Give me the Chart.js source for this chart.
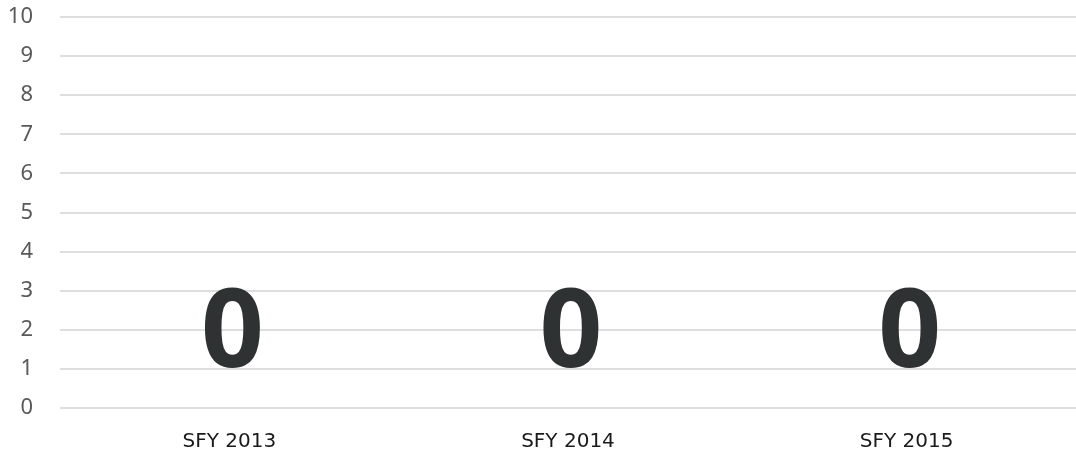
<!DOCTYPE html>
<html>
<head>
<meta charset="utf-8">
<script src="https://cdn.jsdelivr.net/npm/chart.js@4/dist/chart.umd.min.js"></script>
<style>
  html, body { margin: 0; padding: 0; background: #fff; overflow: hidden; }
  canvas { display: block; }
</style>
</head>
<body>
<canvas id="chart" width="1076" height="453"></canvas>
<script>
/* ---------- data ---------- */
const years  = ['SFY 2013', 'SFY 2014', 'SFY 2015'];
const counts = [0, 0, 0];
const yMin = 0, yMax = 10, yStep = 1;

/* ---------- big value labels above each bar ---------- */
const valueLabels = {
  id: 'valueLabels',
  afterDatasetsDraw(chart) {
    const { ctx } = chart;
    const meta = chart.getDatasetMeta(0);
    ctx.save();
    ctx.font = 'bold 110px "Open Sans", sans-serif';
    ctx.fillStyle = '#2f3232';
    ctx.textAlign = 'center';
    ctx.textBaseline = 'alphabetic';
    meta.data.forEach((bar, i) => {
      ctx.fillText(String(counts[i]), bar.x + 3, bar.y - 41);
    });
    ctx.restore();
  }
};

/* ---------- chart ---------- */
new Chart(document.getElementById('chart'), {
  type: 'bar',
  data: {
    labels: years,
    datasets: [{
      data: counts,
      backgroundColor: '#4472c4',
      borderWidth: 0
    }]
  },
  options: {
    responsive: false,
    animation: false,
    layout: { padding: { top: 17, right: 0, bottom: -15, left: 0 } },
    plugins: {
      legend: { display: false },
      tooltip: { enabled: false }
    },
    scales: {
      x: {
        grid: { display: false },
        border: { display: false },
        ticks: {
          color: '#1a1a1a',
          font: { family: '"DejaVu Sans", sans-serif', size: 20 },
          padding: 14
        }
      },
      y: {
        min: yMin,
        max: yMax,
        afterFit(scale) {
          scale.width = 60;
          // keep the plot flush with the layout padding
          scale.paddingTop = 0;
          scale.paddingBottom = 0;
        },
        grid: { color: '#dedede', lineWidth: 2, drawTicks: false },
        border: { display: false },
        ticks: {
          stepSize: yStep,
          color: '#595959',
          font: { family: '"Noto Sans", sans-serif', size: 22 },
          padding: 27
        }
      }
    }
  },
  plugins: [valueLabels]
});
</script>
</body>
</html>
